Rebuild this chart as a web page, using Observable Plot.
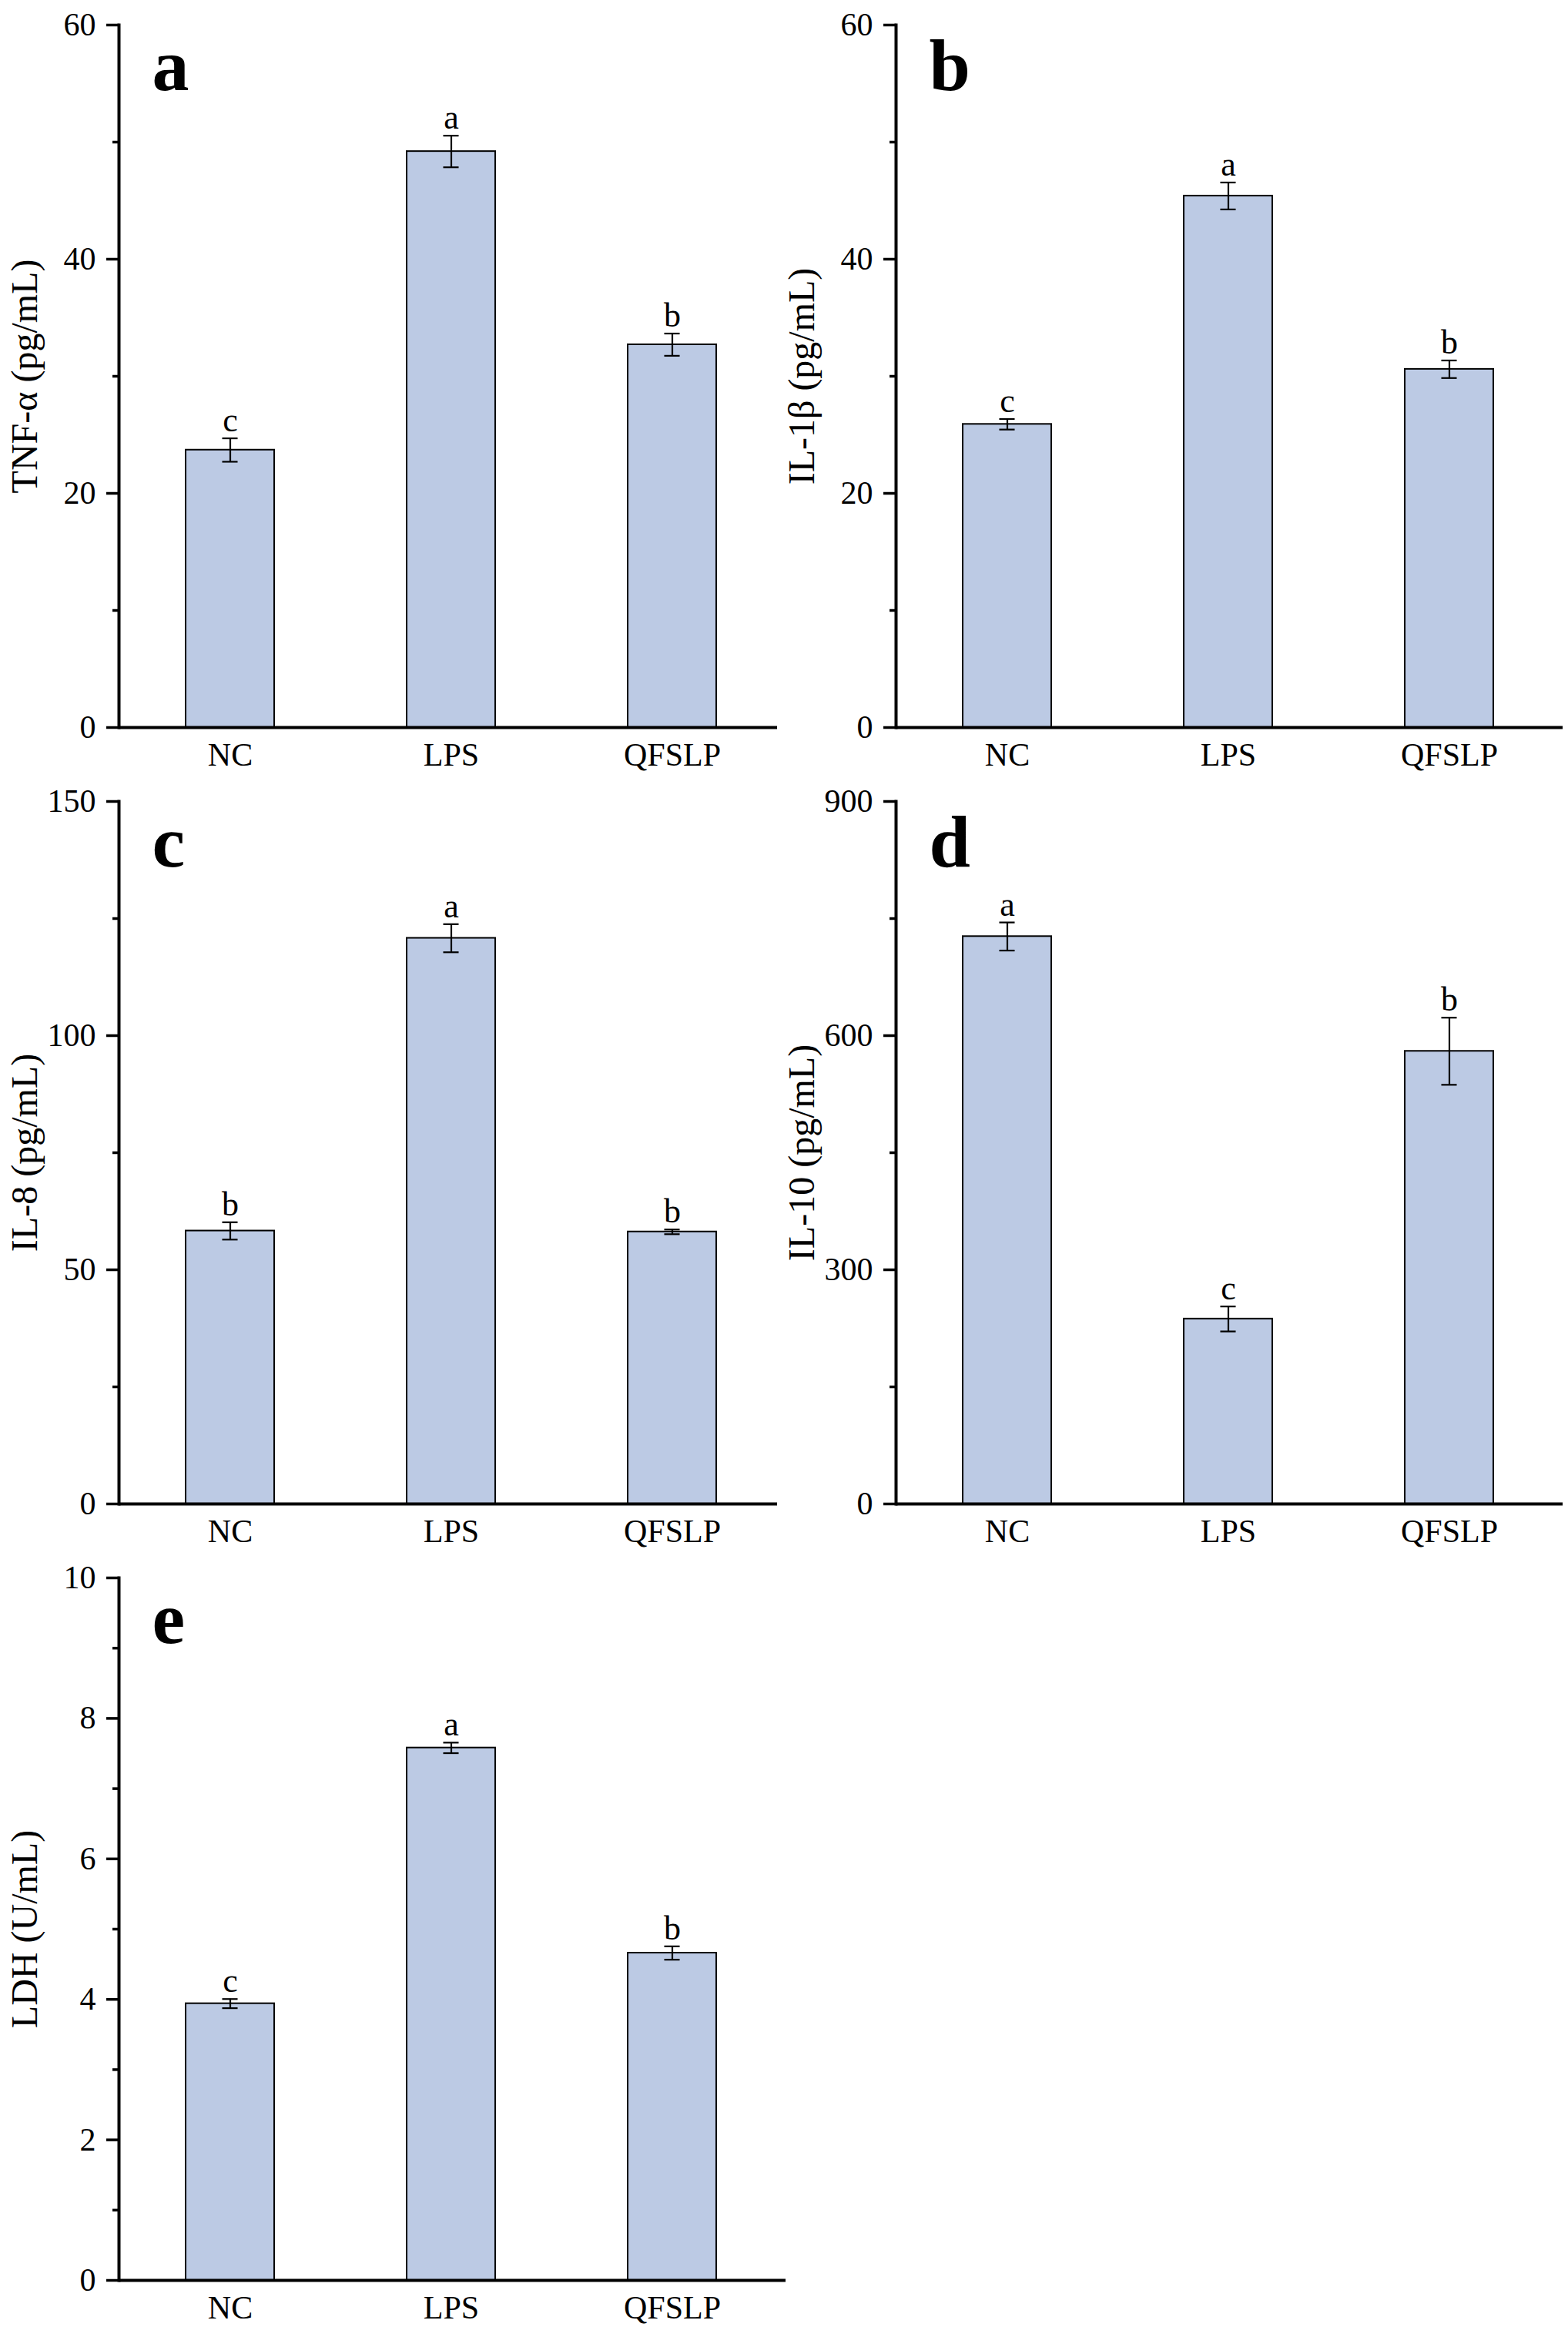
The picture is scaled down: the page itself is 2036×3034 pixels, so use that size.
<!DOCTYPE html>
<html>
<head>
<meta charset="utf-8">
<script src="https://cdn.jsdelivr.net/npm/d3@7"></script>
<script src="https://cdn.jsdelivr.net/npm/@observablehq/plot@0.6"></script>
<style>
  html, body { margin: 0; padding: 0; background: #fff; }
  #wrap { position: relative; width: 2036px; height: 3034px; background: #fff; overflow: hidden; }
  #wrap > div { position: absolute; }
</style>
</head>
<body>
<div id="wrap"></div>
<script>
// ---- data ----
const groups = ["NC", "LPS", "QFSLP"];

const tnfValues = [23.7, 49.2, 32.7];
const tnfErrors = [1.0, 1.35, 0.95];
const tnfLetters = ["c", "a", "b"];

const il1bValues = [25.9, 45.4, 30.6];
const il1bErrors = [0.45, 1.15, 0.75];
const il1bLetters = ["c", "a", "b"];

const il8Values = [58.3, 120.8, 58.1];
const il8Errors = [1.85, 3.0, 0.5];
const il8Letters = ["b", "a", "b"];

const il10Values = [727, 237, 580];
const il10Errors = [18, 16, 43];
const il10Letters = ["a", "c", "b"];

const ldhValues = [3.94, 7.58, 4.66];
const ldhErrors = [0.065, 0.075, 0.095];
const ldhLetters = ["c", "a", "b"];

const ticks60 = [0, 20, 40, 60];
const minor60 = [10, 30, 50];
const ticks150 = [0, 50, 100, 150];
const minor150 = [25, 75, 125];
const ticks900 = [0, 300, 600, 900];
const minor900 = [150, 450, 750];
const ticks10 = [0, 2, 4, 6, 8, 10];
const minor10 = [1, 3, 5, 7, 9];

// ---- drawing ----
const W = 1018, H = 1008, ML = 154, MR = 2, MT = 32, MB = 64;
const FONT = "'Liberation Serif', 'Times New Roman', Times, serif";
const bandwidth = 0.4 * (W - ML - MR) / 3;
const capHalf = 10;

function panel(cfg) {
  const rows = groups.map((g, i) => ({g, v: cfg.values[i], e: cfg.errors[i], s: cfg.letters[i]}));
  return Plot.plot({
    width: W, height: H,
    marginTop: MT, marginBottom: MB, marginLeft: ML, marginRight: MR,
    style: {fontFamily: FONT, fontSize: "42px", color: "black", background: "white", overflow: "visible"},
    x: {domain: groups, paddingInner: 0.6, paddingOuter: 0.3, label: null},
    y: {domain: cfg.domain, label: null},
    marks: [
      Plot.barY(rows, {x: "g", y: "v", fill: "#bccae4", stroke: "black", strokeWidth: 2}),
      Plot.ruleX(rows, {x: "g", y1: d => d.v - d.e, y2: d => d.v + d.e, stroke: "black", strokeWidth: 2.2}),
      Plot.tickY(rows, {x: "g", y: d => d.v + d.e, stroke: "black", strokeWidth: 2.2,
        insetLeft: bandwidth / 2 - capHalf, insetRight: bandwidth / 2 - capHalf}),
      Plot.tickY(rows, {x: "g", y: d => d.v - d.e, stroke: "black", strokeWidth: 2.2,
        insetLeft: bandwidth / 2 - capHalf, insetRight: bandwidth / 2 - capHalf}),
      Plot.text(rows, {x: "g", y: d => d.v + d.e, text: "s", dy: -9, lineAnchor: "bottom", fontSize: 44, fill: "black"}),
      Plot.axisY(cfg.major, {tickSize: 16, tickPadding: 14, strokeWidth: 3.5, fontSize: 42, label: null, tickFormat: d => String(d)}),
      Plot.axisY(cfg.minor, {tickSize: 8, strokeWidth: 3.5, label: null, tickFormat: () => ""}),
      Plot.axisX({tickSize: 0, tickPadding: 20, fontSize: 42, label: null}),
      Plot.ruleY([0], {stroke: "black", strokeWidth: 4, insetRight: -4}),
      Plot.frame({anchor: "left", stroke: "black", strokeWidth: 4}),
      Plot.text([cfg.label], {frameAnchor: "left", rotate: -90, dx: -107, lineAnchor: "bottom", textAnchor: "middle", fontSize: 48, fill: "black"}),
      Plot.text([cfg.tag], {frameAnchor: "top-left", dx: 43, dy: 84, lineAnchor: "bottom", textAnchor: "start", fontSize: 96, fontWeight: "bold", fill: "black"})
    ]
  });
}

const panels = [
  {tag: "a", label: "TNF-α (pg/mL)", values: tnfValues, errors: tnfErrors, letters: tnfLetters, domain: [0, 60], major: ticks60, minor: minor60, left: 0, top: 0},
  {tag: "b", label: "IL-1β (pg/mL)", values: il1bValues, errors: il1bErrors, letters: il1bLetters, domain: [0, 60], major: ticks60, minor: minor60, left: 1009, top: 0},
  {tag: "c", label: "IL-8 (pg/mL)", values: il8Values, errors: il8Errors, letters: il8Letters, domain: [0, 150], major: ticks150, minor: minor150, left: 0, top: 1008},
  {tag: "d", label: "IL-10 (pg/mL)", values: il10Values, errors: il10Errors, letters: il10Letters, domain: [0, 900], major: ticks900, minor: minor900, left: 1009, top: 1008},
  {tag: "e", label: "LDH (U/mL)", values: ldhValues, errors: ldhErrors, letters: ldhLetters, domain: [0, 10], major: ticks10, minor: minor10, left: 0, top: 2016}
];

const wrap = document.getElementById("wrap");
for (const p of panels) {
  const holder = document.createElement("div");
  holder.style.left = p.left + "px";
  holder.style.top = p.top + "px";
  holder.appendChild(panel(p));
  wrap.appendChild(holder);
}
</script>
</body>
</html>
